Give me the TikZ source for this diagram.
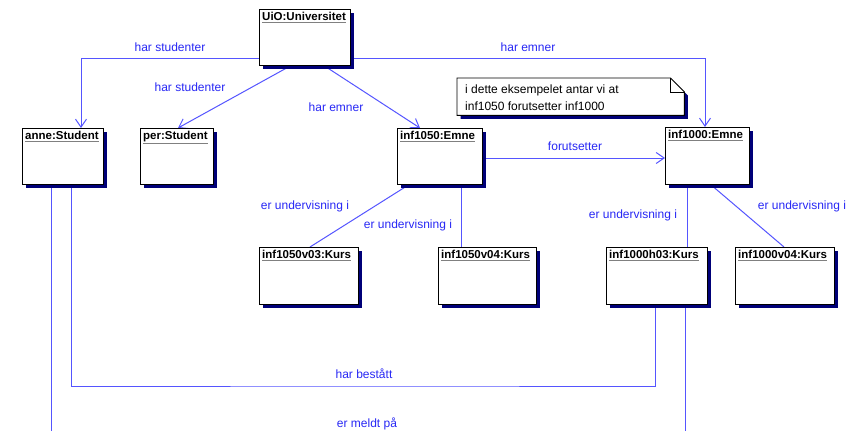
\documentclass[tikz,border=0pt]{standalone}
\usepackage{fontspec}
\setmainfont{Liberation Sans}
\usetikzlibrary{arrows.meta,shadows,calc}
\definecolor{lblue}{RGB}{85,85,255}
\definecolor{tblue}{RGB}{40,40,245}
\definecolor{navy}{RGB}{0,0,120}
\newcommand{\objtitle}[1]{{\color{gray}\underline{\color{black}#1}}}
\pgfdeclarelayer{bg}
\pgfsetlayers{bg,main}
\begin{document}
\begin{tikzpicture}[x=1pt,y=-1pt,
  obj/.style={draw=black, line width=0.9pt, fill=white, anchor=north west, inner sep=0pt, outer sep=0pt,
    drop shadow={shadow xshift=3.5pt, shadow yshift=-3.5pt, fill=navy, opacity=1}},
  otitle/.style={anchor=north west, inner sep=1pt, font=\bfseries\fontsize{11.5}{13}\selectfont},
  lbl/.style={inner sep=0pt, text=tblue, font=\fontsize{12}{14}\selectfont},
  assoc/.style={draw=lblue, line width=1pt},
  nav/.style={assoc, -{Straight Barb[length=8pt,width=11pt,line width=1pt]}}
]
\useasboundingbox (0,0) rectangle (860,431);

% object boxes
\node[obj, minimum width=91pt, minimum height=56pt] (uio) at (259,9) {};
\node[otitle] (uiot) at ([xshift=2pt,yshift=-2pt]uio.north west) {\objtitle{UiO:Universitet}};

\node[obj, minimum width=81pt, minimum height=56pt] (anne) at (22,128) {};
\node[otitle] (annet) at ([xshift=2pt,yshift=-2pt]anne.north west) {\objtitle{anne:Student}};

\node[obj, minimum width=73pt, minimum height=56pt] (per) at (140,128) {};
\node[otitle] (pert) at ([xshift=2pt,yshift=-2pt]per.north west) {\objtitle{per:Student}};

\node[obj, minimum width=85pt, minimum height=56pt] (e1050) at (397,128) {};
\node[otitle] (e1050t) at ([xshift=2pt,yshift=-2pt]e1050.north west) {\objtitle{inf1050:Emne}};

\node[obj, minimum width=84pt, minimum height=57pt] (e1000) at (665,127) {};
\node[otitle] (e1000t) at ([xshift=2pt,yshift=-2pt]e1000.north west) {\objtitle{inf1000:Emne}};

\node[obj, minimum width=99pt, minimum height=57pt] (k1) at (259,247) {};
\node[otitle] (k1t) at ([xshift=2pt,yshift=-2pt]k1.north west) {\objtitle{inf1050v03:Kurs}};

\node[obj, minimum width=98pt, minimum height=57pt] (k2) at (438,247) {};
\node[otitle] (k2t) at ([xshift=2pt,yshift=-2pt]k2.north west) {\objtitle{inf1050v04:Kurs}};

\node[obj, minimum width=101pt, minimum height=57pt] (k3) at (606,247) {};
\node[otitle] (k3t) at ([xshift=2pt,yshift=-2pt]k3.north west) {\objtitle{inf1000h03:Kurs}};

\node[obj, minimum width=99pt, minimum height=57pt] (k4) at (735,247) {};
\node[otitle] (k4t) at ([xshift=2pt,yshift=-2pt]k4.north west) {\objtitle{inf1000v04:Kurs}};

% note
\node[anchor=north west, minimum width=227pt, minimum height=37pt, inner sep=0pt] (note) at (457,78) {};
\draw[black, line width=0.9pt, fill=white, drop shadow={shadow xshift=3.5pt, shadow yshift=-3.5pt, fill=navy, opacity=1}]
  (note.north west) -- ([xshift=-14pt]note.north east) -- ([yshift=-14pt]note.north east)
  -- (note.south east) -- (note.south west) -- cycle;
\draw[black, line width=0.9pt] ([xshift=-14pt]note.north east) -- ([xshift=-14pt,yshift=-14pt]note.north east) -- ([yshift=-14pt]note.north east);
\node[anchor=north west, align=left, inner sep=0pt, font=\fontsize{12}{17}\selectfont] (notetxt) at (465,85)
  {i dette eksempelet antar vi at\\inf1050 forutsetter inf1000};

% free ends
\coordinate (endA) at (51,431);
\coordinate (endB) at (685,431);

\begin{pgfonlayer}{bg}
\fill[white] (0,0) rectangle (860,431);
\draw[nav] ([yshift=7pt]uio.south west) -| ([xshift=18.5pt]anne.north);
\draw[nav] ([xshift=33pt]uio.south west) -- ([xshift=38pt]per.north west);
\draw[nav] ([xshift=64pt]uio.south west) -- ([xshift=23pt]e1050.north west);
\draw[nav] ([yshift=7pt]uio.south east) -| ([xshift=40pt]e1000.north west);
\draw[nav] ([yshift=-2pt]e1050.east) -- ([yshift=-2pt]e1050.east -| e1000.west);
\draw[assoc] ([xshift=13pt]e1050.south west) -- ([xshift=51pt]k1.north west);
\draw[assoc] ([xshift=64pt]e1050.south west) -- ([xshift=64pt]e1050.south west |- k2.north);
\draw[assoc] ([xshift=22pt]e1000.south west) -- ([xshift=22pt]e1000.south west |- k3.north);
\draw[assoc] ([xshift=45pt]e1000.south west) -- ([xshift=49pt]k4.north west);
\draw[assoc] ([xshift=49pt]anne.south west) |- (386,386) -| ([xshift=49pt]k3.south west);
\draw[assoc] ([xshift=29pt]anne.south west) -- (endA);
\draw[assoc] ([xshift=79pt]k3.south west) -- (endB);
\end{pgfonlayer}

% labels
\node[lbl] (l1) at (170,47) {har studenter};
\node[lbl] (l2) at (190,87) {har studenter};
\node[lbl] (l3) at (336,107) {har emner};
\node[lbl] (l4) at (528,47) {har emner};
\node[lbl] (l5) at (575,146) {forutsetter};
\node[lbl] (l6) at (305,206) {er undervisning i};
\node[lbl] (l7) at (408,225) {er undervisning i};
\node[lbl] (l8) at (633,215) {er undervisning i};
\node[lbl] (l9) at (802,206) {er undervisning i};
\node[lbl] (l10) at (364,374) {har bestått};
\node[lbl] (l11) at (367,424) {er meldt på};
\end{tikzpicture}
\end{document}
